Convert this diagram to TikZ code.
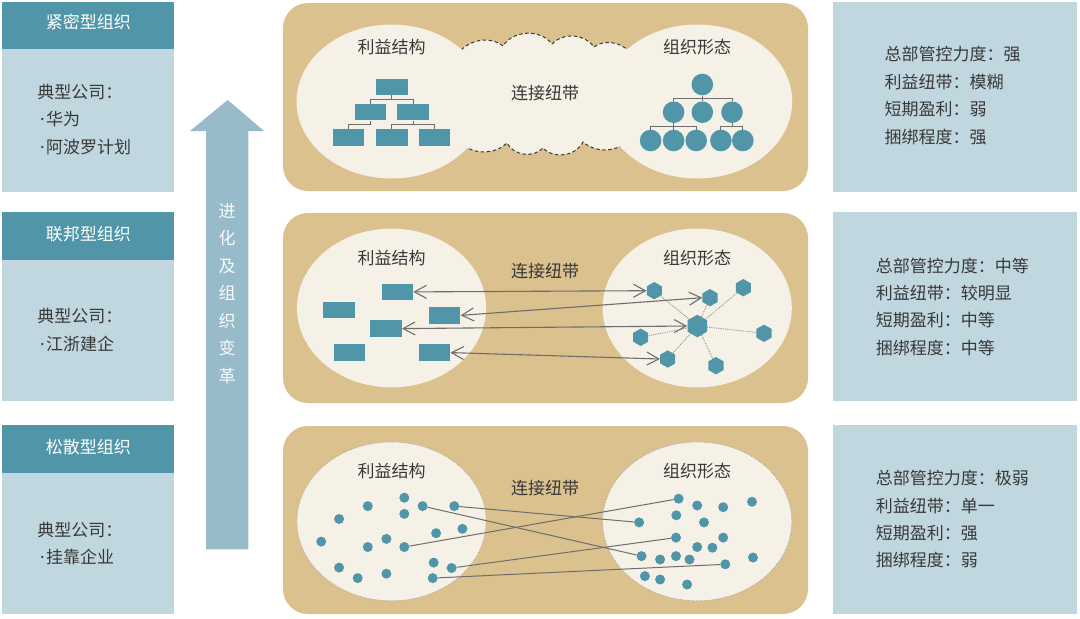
\documentclass[tikz,border=0pt]{standalone}
\usepackage{fontspec}
\setmainfont{Noto Sans CJK SC}
\newfontfamily\latinfont{Noto Sans}
\usetikzlibrary{shapes.geometric, arrows.meta}
\definecolor{headteal}{HTML}{5096A8}
\definecolor{boxblue}{HTML}{C1D7DF}
\definecolor{arrowblue}{HTML}{97BBC9}
\definecolor{paneltan}{HTML}{DAC18D}
\definecolor{cream}{HTML}{F5F1E7}
\definecolor{inkgray}{HTML}{383838}
\definecolor{wiregray}{HTML}{6E6E6E}
\newcommand{\bulletdot}{\hspace*{2.5pt}{\latinfont ·}\hspace{1.5pt}}
\tikzset{
	bodytext/.style={font=\fontsize{17}{27.4}\selectfont, text=inkgray, inner sep=0pt}
}
\tikzset{
	headtext/.style={font=\fontsize{17}{27.5}\selectfont, text=white, inner sep=0pt}
}
\tikzset{
  unitbox/.style={rectangle, fill=headteal, minimum width=31.4pt, minimum height=16.5pt, inner sep=0pt},
  unitball/.style={circle, fill=headteal, minimum size=21.6pt, inner sep=0pt},
  unithex/.style={regular polygon, regular polygon sides=6, shape border rotate=30,
    fill=headteal, minimum size=17.4pt, inner sep=0pt},
  unitdot/.style={circle, fill=headteal, minimum size=10pt, inner sep=0pt},
  wire/.style={wiregray, line width=1pt},
  tie/.style={wiregray, line width=1.1pt,
    {Straight Barb[length=12pt,width=13pt]}-{Straight Barb[length=12pt,width=13pt]}},
  spoke/.style={wiregray!85, densely dotted, line width=0.8pt},
  strand/.style={wiregray, line width=1pt}
}

\begin{document}
\begin{tikzpicture}[x=1pt, y=-1pt]
      \useasboundingbox (0,0) rectangle (1080,619);
      % left column: organisation types
      \fill[headteal] (2,2) rectangle (174.3,49.3);
      \fill[boxblue] (2,49.3) rectangle (174.3,191.7);
      \fill[headteal] (2,212) rectangle (174.3,259.6);
      \fill[boxblue] (2,259.6) rectangle (174.3,401);
      \fill[headteal] (2,425) rectangle (174.3,473.3);
      \fill[boxblue] (2,473.3) rectangle (174.3,614);
      \node[headtext] (tight) at (88.3,21.7) {紧密型组织};
      \node[headtext] (federal) at (88.3,234.3) {联邦型组织};
      \node[headtext] (loose) at (88.3,447.3) {松散型组织};
      \node[bodytext, align=left, anchor=west] (tightco) at (37.3,119.2)
        {典型公司：\\\bulletdot 华为\\\bulletdot 阿波罗计划};
      \node[bodytext, align=left, anchor=west] (federalco) at (37.3,330)
        {典型公司：\\\bulletdot 江浙建企};
      \node[bodytext, align=left, anchor=west] (looseco) at (37.3,543.4)
        {典型公司：\\\bulletdot 挂靠企业};
      % evolution arrow
      \fill[arrowblue] (206,549.3) -- (206,131) -- (190,131) -- (227.7,100)
        -- (264,131) -- (248.3,131) -- (248.3,549.3) -- cycle;
      \node[headtext, align=center, text=white!94!arrowblue] (evolve) at (227.2,293.3)
        {进\\化\\及\\组\\织\\变\\革};
      % middle panels
      \fill[paneltan, rounded corners=25pt] (283,3) rectangle (808,191);
      \fill[paneltan, rounded corners=25pt] (283,213) rectangle (808,403);
      \fill[paneltan, rounded corners=25pt] (283,426) rectangle (808,614);
      % top panel: cloud joining the two ellipses
      \filldraw[fill=cream, draw=inkgray, line width=1pt, dash pattern=on 3.5pt off 2.5pt]
        (455,60) to[bend left=55] (503,46) to[bend left=55] (552,44)
        to[bend left=50] (594,47) to[bend left=55] (634,60) -- (634,134)
        to[bend left=50] (583,142) to[bend left=55] (543,148)
        to[bend left=55] (507,143) to[bend left=50] (455,137) -- cycle;
      \fill[cream] (391.5,101.5) ellipse [x radius=95, y radius=77];
      \fill[cream] (697.2,101.5) ellipse [x radius=95, y radius=77];
      \node[bodytext] (gain1) at (391.5,47.3) {利益结构};
      \node[bodytext] (form1) at (697.2,47.3) {组织形态};
      \node[bodytext] (link1) at (545.2,92.9) {连接纽带};
      \node[unitbox] (b0) at (391.8,86.8) {};
      \node[unitbox] (b1) at (370.2,112.2) {};
      \node[unitbox] (b2) at (413.1,112.2) {};
      \node[unitbox] (b3) at (348.6,137.5) {};
      \node[unitbox] (b4) at (391.8,137.5) {};
      \node[unitbox] (b5) at (434.7,137.5) {};
      \draw[wire] (b0.south) -- ++(0,4.6) -| (b1.north);
      \draw[wire] (b0.south) -- ++(0,4.6) -| (b2.north);
      \draw[wire] (b1.south) -- ++(0,3.8) -| (b3.north);
      \draw[wire] (b2.south) -- ++(0,3.8) -| (b4.north);
      \draw[wire] (b2.south) -- ++(0,3.8) -| (b5.north);
      \node[unitball] (c0) at (702.3,84.5) {};
      \node[unitball] (c1) at (673.6,112.2) {};
      \node[unitball] (c2) at (702.3,112.2) {};
      \node[unitball] (c3) at (732,112.2) {};
      \node[unitball] (d1) at (650.6,140.5) {};
      \node[unitball] (d2) at (673.6,140.5) {};
      \node[unitball] (d3) at (696.2,140.5) {};
      \node[unitball] (d4) at (720.9,140.5) {};
      \node[unitball] (d5) at (742.8,140.5) {};
      \draw[wire] (c0.south) -- ++(0,2.7) -| (c1.north);
      \draw[wire] (c0.south) -- ++(0,2.7) -| (c2.north);
      \draw[wire] (c0.south) -- ++(0,2.7) -| (c3.north);
      \draw[wire] (c1.south) -- ++(0,3.7) -| (d1.north);
      \draw[wire] (c1.south) -- ++(0,3.7) -| (d2.north);
      \draw[wire] (c1.south) -- ++(0,3.7) -| (d3.north);
      \draw[wire] (c3.south) -- ++(0,3.7) -| (d4.north);
      \draw[wire] (c3.south) -- ++(0,3.7) -| (d5.north);
      % middle panel: units tied to a hub network
      \fill[cream] (391.5,308) ellipse [x radius=94.6, y radius=79.4];
      \fill[cream] (697.2,308) ellipse [x radius=94.6, y radius=79.4];
      \node[bodytext] (gain2) at (391.5,258) {利益结构};
      \node[bodytext] (form2) at (697.2,258) {组织形态};
      \node[bodytext] (link2) at (545.2,270.8) {连接纽带};
      \node[unitbox] (g1) at (397.4,291.9) {};
      \node[unitbox] (g2) at (339,310) {};
      \node[unitbox] (g3) at (444.7,315.4) {};
      \node[unitbox] (g4) at (386.1,328.6) {};
      \node[unitbox] (g5) at (349.4,352.6) {};
      \node[unitbox] (g6) at (434.6,352.6) {};
      \node[unithex, minimum size=22.6pt] (hub) at (697.3,326) {};
      \node[unithex] (f1) at (654.3,290.7) {};
      \node[unithex] (f2) at (710,297.7) {};
      \node[unithex] (f3) at (743.3,287.7) {};
      \node[unithex] (f4) at (640.7,337.3) {};
      \node[unithex] (f5) at (764,333.3) {};
      \node[unithex] (f6) at (667.7,359) {};
      \node[unithex] (f7) at (716,365.7) {};
      \foreach \f in {f1,f2,f3,f4,f5,f6,f7}
        \draw[spoke] (hub) -- (\f);
      \draw[tie] (g1.east) -- (f1.west);
      \draw[tie] (g3.east) -- (f2.west);
      \draw[tie] (g4.east) -- (hub.west);
      \draw[tie] (g6.east) -- (f6.west);
      % bottom panel: scattered units with single ties
      \filldraw[fill=cream, draw=wiregray!70, densely dotted, line width=0.6pt]
        (391.5,521.4) ellipse [x radius=94.6, y radius=79.4];
      \filldraw[fill=cream, draw=wiregray!70, densely dotted, line width=0.6pt]
        (697.2,521.4) ellipse [x radius=94.6, y radius=79.4];
      \node[bodytext] (gain3) at (391.5,470.7) {利益结构};
      \node[bodytext] (form3) at (697.2,470.7) {组织形态};
      \node[bodytext] (link3) at (545.2,487.6) {连接纽带};
      \foreach \x/\y [count=\i] in {404.3/497.7, 367.8/506.1, 422.6/506.1, 454.3/506.1,
          339.1/519, 404.3/513.9, 436.1/533.2, 462.4/528.8, 321.2/541.6, 386.4/538.9,
          367.8/547, 404.3/547, 339.1/567.6, 433.7/562.6, 451.6/568, 386.4/573.7,
          357.7/578.1, 432.7/578.1}
        \node[unitdot] (p\i) at (\x,\y) {};
      \foreach \x/\y [count=\i] in {678.6/498.7, 697.2/505.5, 723.2/507.2, 752/501.8,
          676.3/515.3, 639.1/522.4, 704/522.4, 676/537.6, 723.2/537.6, 697.2/547,
          712.4/547.7, 641.5/556.1, 660.1/559.5, 676/556.1, 689.5/559.5, 725.3/564.3,
          753/557.5, 644.9/576.1, 660.1/579.5, 687.1/584.5}
        \node[unitdot] (q\i) at (\x,\y) {};
      \draw[strand] (p4) -- (q6);
      \draw[strand] (p3) -- (q12);
      \draw[strand] (p12) -- (q1);
      \draw[strand] (p15) -- (q8);
      \draw[strand] (p18) -- (q16);
      % right column: characteristics
      \fill[boxblue] (833.3,2) rectangle (1076.7,191.7);
      \fill[boxblue] (833.3,212) rectangle (1076.7,401);
      \fill[boxblue] (833.3,425) rectangle (1076.7,614);
      \node[bodytext, align=left, anchor=west] (traits1) at (884.3,95.6)
        {总部管控力度：强\\利益纽带：模糊\\短期盈利：弱\\捆绑程度：强};
      \node[bodytext, align=left, anchor=west] (traits2) at (875.7,306.8)
        {总部管控力度：中等\\利益纽带：较明显\\短期盈利：中等\\捆绑程度：中等};
      \node[bodytext, align=left, anchor=west] (traits3) at (875.7,519.3)
        {总部管控力度：极弱\\利益纽带：单一\\短期盈利：强\\捆绑程度：弱};
    \end{tikzpicture}
\end{document}
